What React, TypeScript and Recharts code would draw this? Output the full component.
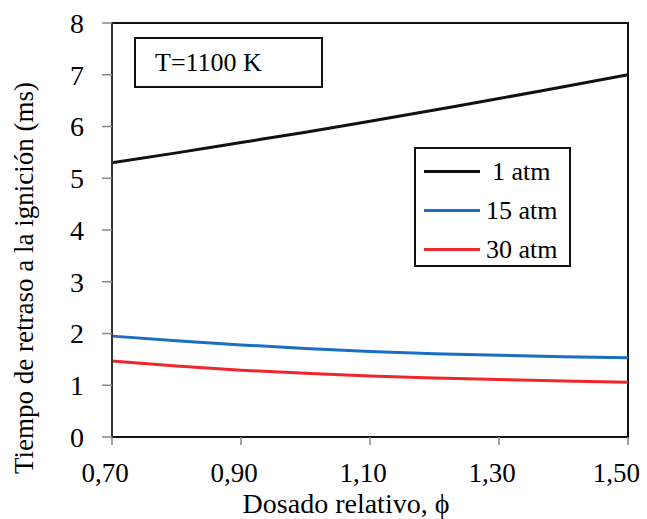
import { Legend, Line, LineChart, ReferenceArea, XAxis, YAxis } from 'recharts';

const phi = [0.7, 0.8, 0.9, 1.0, 1.1, 1.2, 1.3, 1.4, 1.5];
const atm1 = [5.3, 5.49, 5.69, 5.89, 6.1, 6.32, 6.54, 6.77, 7.0];
const atm15 = [1.95, 1.86, 1.78, 1.71, 1.65, 1.61, 1.58, 1.55, 1.53];
const atm30 = [1.47, 1.37, 1.29, 1.23, 1.18, 1.14, 1.11, 1.08, 1.06];
const xTicks = [0.7, 0.9, 1.1, 1.3, 1.5];
const yTicks = [0, 1, 2, 3, 4, 5, 6, 7, 8];

const data = phi.map((p, i) => ({ phi: p, a1: atm1[i], a15: atm15[i], a30: atm30[i] }));

const font = '"Liberation Serif", "Times New Roman", serif';

function LegendBox({ payload }: any) {
  return (
    <div
      style={{
        border: '2px solid #111',
        width: 157,
        height: 120,
        boxSizing: 'border-box',
        background: '#fff',
        paddingTop: 3,
        fontFamily: font,
        fontSize: 26,
        color: '#000',
        textAlign: 'left',
      }}
    >
      {(payload || []).map((e: any) => (
        <div key={e.value} style={{ display: 'flex', alignItems: 'center', height: 39 }}>
          <div style={{ width: 56, height: 3, background: e.color, marginLeft: 8, marginRight: e.value === '1 atm' ? 12 : 6 }} />
          <span>{e.value}</span>
        </div>
      ))}
    </div>
  );
}

export default function App() {
  return (
    <div style={{ position: 'absolute', left: 0, top: 0, width: 647, height: 519, background: '#fff', fontFamily: font }}>
      <LineChart width={647} height={519} data={data} margin={{ top: 23, right: 19, left: 0, bottom: 0 }}>
        <XAxis
          dataKey="phi"
          type="number"
          domain={[0.7, 1.5]}
          ticks={xTicks}
          tickFormatter={(v: number) => v.toFixed(2).replace('.', ',')}
          height={82}
          tickSize={8}
          tickMargin={18}
          axisLine={{ stroke: '#111', strokeWidth: 2 }}
          tickLine={{ stroke: '#888', strokeWidth: 1.5 }}
          tick={{ fill: '#000', fontSize: 27, fontFamily: font, dx: -7 }}
          label={{
            content: () => (
              <text x={346} y={513} textAnchor="middle" fill="#000" fontSize={28} fontFamily={font}>
                Dosado relativo, ϕ
              </text>
            ),
          }}
        />
        <YAxis
          type="number"
          domain={[0, 8]}
          ticks={yTicks}
          width={112}
          tickSize={10}
          tickMargin={18}
          axisLine={{ stroke: '#333', strokeWidth: 2 }}
          tickLine={{ stroke: '#888', strokeWidth: 1.5 }}
          tick={{ fill: '#000', fontSize: 28, fontFamily: font }}
          label={{
            content: () => (
              <text x={33} y={278} transform="rotate(-90, 33, 278)" textAnchor="middle" fill="#000" fontSize={27} fontFamily={font}>
                Tiempo de retraso a la ignición (ms)
              </text>
            ),
          }}
        />
        <ReferenceArea x1={0.7} x2={1.5} y1={0} y2={8} fill="none" stroke="#111" strokeWidth={2} ifOverflow="visible" />
        <Legend
          content={<LegendBox />}
          layout="horizontal"
          verticalAlign="middle"
          align="center"
          wrapperStyle={{ position: 'absolute', left: 414, top: 147, width: 157 }}
        />
        <Line type="monotone" dataKey="a1" name="1 atm" stroke="#111" strokeWidth={3} dot={false} isAnimationActive={false} />
        <Line type="monotone" dataKey="a15" name="15 atm" stroke="#1b6ec2" strokeWidth={3} dot={false} isAnimationActive={false} />
        <Line type="monotone" dataKey="a30" name="30 atm" stroke="#f0262c" strokeWidth={3} dot={false} isAnimationActive={false} />
      </LineChart>
      <div
        style={{
          position: 'absolute',
          left: 134,
          top: 37,
          width: 189,
          height: 51,
          border: '2px solid #111',
          boxSizing: 'border-box',
          fontSize: 26,
          lineHeight: '47px',
          paddingLeft: 19,
          color: '#000',
          background: '#fff',
        }}
      >
        T=1100 K
      </div>
    </div>
  );
}
